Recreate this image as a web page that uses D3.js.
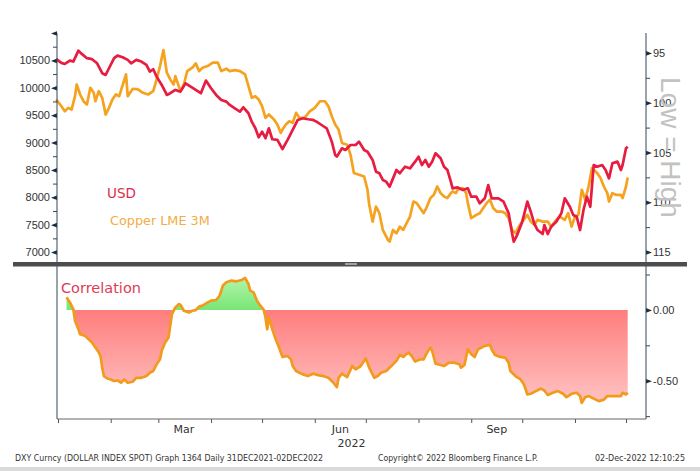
<!DOCTYPE html>
<html>
<head>
<meta charset="utf-8">
<script src="https://d3js.org/d3.v7.min.js"></script>
<style>
  body { margin: 0; background: #fff; }
  svg { display: block; font-family: "DejaVu Sans", sans-serif; }
  .tick text { fill: #333; font-size: 11px; }
</style>
</head>
<body>
<div id="chart"></div>
<script>
// values (USD = DXY index, right axis inverted)
const usdSeries = [
  ["2021-12-31",95.63],["2022-01-03",96.00],["2022-01-05",96.11],["2022-01-08",95.77],["2022-01-10",95.87],
  ["2022-01-13",94.77],["2022-01-15",95.10],["2022-01-18",95.53],["2022-01-21",95.63],["2022-01-24",96.04],
  ["2022-01-27",97.04],["2022-01-29",97.21],["2022-01-31",96.54],["2022-02-03",95.53],["2022-02-05",95.27],
  ["2022-02-08",95.43],["2022-02-11",95.70],["2022-02-13",96.04],["2022-02-16",95.70],["2022-02-19",95.87],
  ["2022-02-22",96.21],["2022-02-24",96.88],["2022-02-26",96.64],["2022-02-28",97.38],["2022-03-03",98.22],
  ["2022-03-06",99.22],["2022-03-08",99.05],["2022-03-11",98.72],["2022-03-14",98.89],["2022-03-17",98.05],
  ["2022-03-20",98.39],["2022-03-23",98.72],["2022-03-26",99.05],["2022-03-29",97.78],["2022-04-01",98.55],
  ["2022-04-04",99.22],["2022-04-07",99.72],["2022-04-10",99.89],["2022-04-12",100.23],["2022-04-15",100.56],
  ["2022-04-18",100.90],["2022-04-20",100.46],["2022-04-23",101.06],["2022-04-25",101.93],["2022-04-27",102.54],
  ["2022-04-29",103.47],["2022-05-01",102.91],["2022-05-03",103.57],["2022-05-05",102.57],["2022-05-07",103.67],
  ["2022-05-10",103.74],["2022-05-13",104.65],["2022-05-16",103.74],["2022-05-17",103.41],["2022-05-19",102.74],
  ["2022-05-22",101.73],["2022-05-25",101.56],["2022-05-28",101.66],["2022-05-31",101.73],["2022-06-02",101.90],
  ["2022-06-05",102.24],["2022-06-08",102.57],["2022-06-11",103.91],["2022-06-13",105.25],["2022-06-14",105.42],
  ["2022-06-17",104.58],["2022-06-19",104.75],["2022-06-22",104.25],["2022-06-25",104.25],["2022-06-27",103.91],
  ["2022-06-30",104.75],["2022-07-02",104.92],["2022-07-05",105.75],["2022-07-07",106.93],["2022-07-09",107.09],
  ["2022-07-11",107.76],["2022-07-13",107.93],["2022-07-15",108.44],["2022-07-17",107.60],["2022-07-19",106.76],
  ["2022-07-21",107.09],["2022-07-24",106.43],["2022-07-27",106.59],["2022-07-30",105.92],["2022-08-01",105.42],
  ["2022-08-03",106.26],["2022-08-05",105.75],["2022-08-07",106.43],["2022-08-09",105.92],["2022-08-11",105.08],
  ["2022-08-14",105.58],["2022-08-16",106.43],["2022-08-18",106.76],["2022-08-20",107.93],["2022-08-21",108.60],
  ["2022-08-24",108.50],["2022-08-27",108.77],["2022-08-30",108.60],["2022-09-01",109.44],["2022-09-04",109.44],
  ["2022-09-06",110.10],["2022-09-09",109.60],["2022-09-11",108.27],["2022-09-13",109.60],["2022-09-17",109.60],
  ["2022-09-20",109.94],["2022-09-23",111.11],["2022-09-25",113.12],["2022-09-26",113.96],["2022-09-28",113.29],
  ["2022-10-01",111.95],["2022-10-04",109.94],["2022-10-06",110.95],["2022-10-08",112.11],["2022-10-10",112.79],
  ["2022-10-13",113.19],["2022-10-14",112.29],["2022-10-16",113.19],["2022-10-18",112.46],["2022-10-21",111.95],
  ["2022-10-24",111.11],["2022-10-26",109.60],["2022-10-29",110.45],["2022-10-31",111.28],["2022-11-02",111.45],
  ["2022-11-04",112.79],["2022-11-06",110.78],["2022-11-08",109.44],["2022-11-10",110.45],["2022-11-12",106.26],
  ["2022-11-14",106.43],["2022-11-17",106.26],["2022-11-19",106.76],["2022-11-21",107.60],["2022-11-23",106.09],
  ["2022-11-26",105.92],["2022-11-28",106.76],["2022-11-29",106.26],["2022-12-01",104.58],["2022-12-02",104.42]
];

const copperSeries = [
  ["2021-12-31",9786],["2022-01-03",9663],["2022-01-05",9571],["2022-01-07",9633],["2022-01-09",9602],
  ["2022-01-11",9846],["2022-01-12",10060],["2022-01-14",9877],["2022-01-16",9754],["2022-01-18",9694],
  ["2022-01-20",10000],["2022-01-22",9908],["2022-01-23",9754],["2022-01-25",9938],["2022-01-27",9817],
  ["2022-01-29",9511],["2022-01-31",9633],["2022-02-02",9786],["2022-02-04",9877],["2022-02-06",9846],
  ["2022-02-10",10244],["2022-02-11",9846],["2022-02-14",9982],["2022-02-17",9969],["2022-02-20",9908],
  ["2022-02-23",9877],["2022-02-26",9938],["2022-02-28",10152],["2022-03-02",10396],["2022-03-04",10689],
  ["2022-03-06",10275],["2022-03-08",10152],["2022-03-10",10060],["2022-03-11",10212],["2022-03-14",9938],
  ["2022-03-16",10060],["2022-03-18",10304],["2022-03-21",10366],["2022-03-23",10445],["2022-03-25",10304],
  ["2022-03-27",10366],["2022-03-30",10396],["2022-04-02",10458],["2022-04-05",10458],["2022-04-07",10304],
  ["2022-04-10",10348],["2022-04-12",10304],["2022-04-15",10322],["2022-04-18",10304],["2022-04-21",10244],
  ["2022-04-23",10029],["2022-04-25",9817],["2022-04-27",9846],["2022-04-29",9786],["2022-05-01",9663],
  ["2022-05-03",9450],["2022-05-05",9511],["2022-05-08",9419],["2022-05-10",9328],["2022-05-12",9175],
  ["2022-05-13",9236],["2022-05-15",9328],["2022-05-17",9388],["2022-05-19",9359],["2022-05-21",9542],
  ["2022-05-23",9450],["2022-05-26",9450],["2022-05-29",9571],["2022-06-01",9633],["2022-06-04",9754],
  ["2022-06-07",9754],["2022-06-09",9663],["2022-06-11",9480],["2022-06-13",9328],["2022-06-15",9236],
  ["2022-06-17",8992],["2022-06-20",8961],["2022-06-22",8778],["2022-06-24",8443],["2022-06-27",8411],
  ["2022-06-30",8380],["2022-07-02",8137],["2022-07-03",7862],["2022-07-05",7556],["2022-07-07",7831],
  ["2022-07-09",7710],["2022-07-11",7404],["2022-07-14",7221],["2022-07-15",7190],["2022-07-17",7404],
  ["2022-07-19",7343],["2022-07-21",7464],["2022-07-23",7404],["2022-07-25",7527],["2022-07-27",7648],
  ["2022-07-29",7922],["2022-07-31",7893],["2022-08-02",7801],["2022-08-04",7710],["2022-08-06",7831],
  ["2022-08-08",7985],["2022-08-10",8045],["2022-08-12",8197],["2022-08-14",8076],["2022-08-16",8014],
  ["2022-08-18",7985],["2022-08-20",8076],["2022-08-21",8106],["2022-08-23",8076],["2022-08-24",8137],
  ["2022-08-27",8168],["2022-08-29",8076],["2022-08-30",7893],["2022-09-01",7618],["2022-09-04",7679],
  ["2022-09-06",7710],["2022-09-08",7801],["2022-09-10",7893],["2022-09-12",7954],["2022-09-14",7801],
  ["2022-09-16",7739],["2022-09-19",7739],["2022-09-21",7710],["2022-09-23",7618],["2022-09-25",7404],
  ["2022-09-27",7343],["2022-09-29",7464],["2022-10-01",7556],["2022-10-04",7679],["2022-10-06",7556],
  ["2022-10-08",7496],["2022-10-10",7587],["2022-10-13",7556],["2022-10-16",7556],["2022-10-18",7464],
  ["2022-10-21",7587],["2022-10-23",7648],["2022-10-26",7587],["2022-10-28",7710],["2022-10-30",7464],
  ["2022-11-01",7648],["2022-11-03",7679],["2022-11-05",8137],["2022-11-07",7954],["2022-11-09",8197],
  ["2022-11-11",8534],["2022-11-14",8443],["2022-11-16",8351],["2022-11-18",8197],["2022-11-20",8076],
  ["2022-11-21",7922],["2022-11-23",8076],["2022-11-25",8045],["2022-11-28",8045],["2022-11-29",7985],
  ["2022-12-01",8197],["2022-12-02",8362]
];

const corrSeries = [
  ["2022-01-06",0.089],["2022-01-08",0.053],["2022-01-10",0.006],["2022-01-11",-0.077],["2022-01-13",-0.136],
  ["2022-01-14",-0.172],["2022-01-17",-0.183],["2022-01-19",-0.207],["2022-01-21",-0.230],["2022-01-23",-0.266],
  ["2022-01-25",-0.301],["2022-01-26",-0.325],["2022-01-27",-0.408],["2022-01-28",-0.467],["2022-01-30",-0.484],
  ["2022-02-01",-0.491],["2022-02-03",-0.502],["2022-02-05",-0.498],["2022-02-07",-0.514],["2022-02-09",-0.491],
  ["2022-02-11",-0.514],["2022-02-14",-0.507],["2022-02-16",-0.479],["2022-02-19",-0.479],["2022-02-22",-0.467],
  ["2022-02-24",-0.443],["2022-02-26",-0.431],["2022-02-28",-0.384],["2022-03-02",-0.349],["2022-03-03",-0.289],
  ["2022-03-05",-0.230],["2022-03-07",-0.195],["2022-03-08",-0.112],["2022-03-09",-0.030],["2022-03-11",0.018],
  ["2022-03-13",0.041],["2022-03-14",0.037],["2022-03-16",-0.006],["2022-03-19",-0.018],["2022-03-21",-0.006],
  ["2022-03-23",-0.001],["2022-03-25",0.023],["2022-03-27",0.030],["2022-03-30",0.053],["2022-04-01",0.065],
  ["2022-04-04",0.070],["2022-04-06",0.100],["2022-04-08",0.172],["2022-04-10",0.195],["2022-04-13",0.207],
  ["2022-04-16",0.202],["2022-04-19",0.211],["2022-04-21",0.226],["2022-04-23",0.183],["2022-04-24",0.136],
  ["2022-04-26",0.124],["2022-04-28",0.065],["2022-04-30",0.030],["2022-05-02",0.000],["2022-05-03",-0.053],
  ["2022-05-04",-0.136],["2022-05-05",-0.053],["2022-05-07",-0.136],["2022-05-09",-0.207],["2022-05-11",-0.266],
  ["2022-05-13",-0.332],["2022-05-16",-0.325],["2022-05-18",-0.349],["2022-05-19",-0.396],["2022-05-21",-0.431],
  ["2022-05-23",-0.443],["2022-05-25",-0.455],["2022-05-28",-0.467],["2022-05-31",-0.450],["2022-06-03",-0.460],
  ["2022-06-06",-0.467],["2022-06-09",-0.479],["2022-06-12",-0.514],["2022-06-14",-0.545],["2022-06-15",-0.479],
  ["2022-06-17",-0.450],["2022-06-20",-0.474],["2022-06-23",-0.396],["2022-06-25",-0.420],["2022-06-28",-0.396],
  ["2022-07-01",-0.342],["2022-07-03",-0.408],["2022-07-06",-0.479],["2022-07-08",-0.467],["2022-07-10",-0.443],
  ["2022-07-13",-0.431],["2022-07-16",-0.396],["2022-07-19",-0.360],["2022-07-21",-0.318],["2022-07-23",-0.332],
  ["2022-07-26",-0.301],["2022-07-28",-0.325],["2022-07-30",-0.365],["2022-08-02",-0.349],["2022-08-04",-0.349],
  ["2022-08-06",-0.301],["2022-08-08",-0.266],["2022-08-09",-0.289],["2022-08-11",-0.379],["2022-08-14",-0.389],
  ["2022-08-16",-0.396],["2022-08-19",-0.372],["2022-08-22",-0.372],["2022-08-25",-0.384],["2022-08-26",-0.408],
  ["2022-08-28",-0.389],["2022-08-30",-0.278],["2022-09-01",-0.313],["2022-09-03",-0.332],["2022-09-05",-0.278],
  ["2022-09-07",-0.266],["2022-09-09",-0.254],["2022-09-12",-0.247],["2022-09-13",-0.278],["2022-09-15",-0.318],
  ["2022-09-18",-0.332],["2022-09-21",-0.337],["2022-09-23",-0.372],["2022-09-24",-0.431],["2022-09-27",-0.467],
  ["2022-09-30",-0.491],["2022-10-02",-0.526],["2022-10-04",-0.597],["2022-10-06",-0.592],["2022-10-09",-0.573],
  ["2022-10-12",-0.555],["2022-10-14",-0.569],["2022-10-16",-0.601],["2022-10-19",-0.585],["2022-10-22",-0.573],
  ["2022-10-25",-0.592],["2022-10-27",-0.616],["2022-10-30",-0.592],["2022-11-02",-0.585],["2022-11-04",-0.608],
  ["2022-11-05",-0.656],["2022-11-07",-0.616],["2022-11-09",-0.608],["2022-11-12",-0.626],["2022-11-15",-0.644],
  ["2022-11-18",-0.633],["2022-11-20",-0.608],["2022-11-23",-0.608],["2022-11-26",-0.608],["2022-11-28",-0.608],
  ["2022-11-29",-0.585],["2022-12-01",-0.597],["2022-12-02",-0.585]
];

// tick labels
const copperMajor = [7000, 7500, 8000, 8500, 9000, 9500, 10000, 10500, 11000];
const copperMinor = [7250, 7750, 8250, 8750, 9250, 9750, 10250, 10750];
const usdMajor = [95, 100, 105, 110, 115];
const usdMinor = [97.5, 102.5, 107.5, 112.5];
const corrMajor = [0, -0.5];
const corrMinor = [0.25, -0.25, -0.75];
const monthLabels = ["Mar", "Jun", "Sep"];

const W = 700, H = 471;
const left = 57, right = 646;
const topY = 33, sepY = 264, botTop = 266, botY = 419;

const parse = d3.timeParse("%Y-%m-%d");
const usd = usdSeries.map(d => ({ date: parse(d[0]), v: d[1] }));
const cu = copperSeries.map(d => ({ date: parse(d[0]), v: d[1] }));
const corr = corrSeries.map(d => ({ date: parse(d[0]), v: d[1] }));

const svg = d3.select("#chart").append("svg")
  .attr("width", W).attr("height", H);

// scales
const x = d3.scaleTime()
  .domain([new Date(2022, 0, 1), new Date(2022, 11, 1)])
  .range([58, 626]);
const yCu = d3.scaleLinear().domain([6800, 11000]).range([sepY - 1, topY]);
const yUsd = d3.scaleLinear().domain([93, 116.1]).range([topY, sepY - 1]);
const yC = d3.scaleLinear().domain([0.31, -0.77]).range([botTop, botY]);

const axisCol = "#34465a";

// gradients
const defs = svg.append("defs");
const gRed = defs.append("linearGradient").attr("id", "gRed")
  .attr("gradientUnits", "userSpaceOnUse")
  .attr("x1", 0).attr("x2", 0).attr("y1", yC(0)).attr("y2", yC(-0.66));
gRed.append("stop").attr("offset", 0).attr("stop-color", "#ff7d7d");
gRed.append("stop").attr("offset", 1).attr("stop-color", "#ffc3c3");
const gGreen = defs.append("linearGradient").attr("id", "gGreen")
  .attr("gradientUnits", "userSpaceOnUse")
  .attr("x1", 0).attr("x2", 0).attr("y1", yC(0.23)).attr("y2", yC(0));
gGreen.append("stop").attr("offset", 0).attr("stop-color", "#b4f5aa");
gGreen.append("stop").attr("offset", 1).attr("stop-color", "#78e676");

defs.append("clipPath").attr("id", "clipPos").append("rect")
  .attr("x", left).attr("y", botTop).attr("width", right - left).attr("height", yC(0) - botTop);
defs.append("clipPath").attr("id", "clipNeg").append("rect")
  .attr("x", left).attr("y", yC(0)).attr("width", right - left).attr("height", botY - yC(0));

// ---- top panel lines
const cuLine = d3.line().x(d => x(d.date)).y(d => yCu(d.v));
const usdLine = d3.line().x(d => x(d.date)).y(d => yUsd(d.v));

svg.append("path").datum(cu)
  .attr("d", cuLine).attr("fill", "none")
  .attr("stroke", "#f5a21e").attr("stroke-width", 2.7).attr("stroke-linejoin", "round");
svg.append("path").datum(usd)
  .attr("d", usdLine).attr("fill", "none")
  .attr("stroke", "#e81c40").attr("stroke-width", 2.7).attr("stroke-linejoin", "round");

// ---- bottom panel area + line
const area = d3.area().x(d => x(d.date)).y0(yC(0)).y1(d => yC(d.v));
svg.append("path").datum(corr).attr("d", area)
  .attr("fill", "url(#gGreen)").attr("clip-path", "url(#clipPos)");
svg.append("path").datum(corr).attr("d", area)
  .attr("fill", "url(#gRed)").attr("clip-path", "url(#clipNeg)");
svg.append("path").datum(corr)
  .attr("d", d3.line().x(d => x(d.date)).y(d => yC(d.v)))
  .attr("fill", "none").attr("stroke", "#f29a1c").attr("stroke-width", 2.7)
  .attr("stroke-linejoin", "round");

// ---- axes
function wedge(g, dir) {
  g.selectAll(".tick").append("path")
    .attr("d", dir < 0 ? "M0,-2.3L-6,0L0,2.3Z" : "M0,-2.3L6,0L0,2.3Z")
    .attr("fill", "#1e2c3c");
}
function minor(axis, g) {
  g.call(axis).call(s => s.select(".domain").remove())
    .selectAll(".tick line").attr("stroke", axisCol);
}

// left copper axis
const gL = svg.append("g").attr("transform", `translate(${left},0)`)
  .call(d3.axisLeft(yCu).tickValues(copperMajor).tickSize(0).tickPadding(7)
    .tickFormat(d => d === 11000 ? "" : d));
gL.select(".domain").remove();
wedge(gL, -1);
minor(d3.axisLeft(yCu).tickValues(copperMinor).tickSize(4).tickFormat(""),
  svg.append("g").attr("transform", `translate(${left},0)`));

// right usd axis
const gR = svg.append("g").attr("transform", `translate(${right},0)`)
  .call(d3.axisRight(yUsd).tickValues(usdMajor).tickSize(0).tickPadding(7));
gR.select(".domain").remove();
wedge(gR, 1);
minor(d3.axisRight(yUsd).tickValues(usdMinor).tickSize(4).tickFormat(""),
  svg.append("g").attr("transform", `translate(${right},0)`));

// right correlation axis
const gC = svg.append("g").attr("transform", `translate(${right},0)`)
  .call(d3.axisRight(yC).tickValues(corrMajor).tickSize(0).tickPadding(7)
    .tickFormat(d3.format(".2f")));
gC.select(".domain").remove();
gC.selectAll(".tick text").text(d => d3.format(".2f")(d).replace("−", "-"));
wedge(gC, 1);
minor(d3.axisRight(yC).tickValues(corrMinor).tickSize(4).tickFormat(""),
  svg.append("g").attr("transform", `translate(${right},0)`));

// bottom time axis, month starts
const gX = svg.append("g").attr("transform", `translate(0,${botY})`)
  .call(d3.axisBottom(x)
    .tickValues(d3.timeMonth.range(new Date(2022, 0, 1), new Date(2022, 11, 2)))
    .tickSize(4).tickFormat(""));
gX.select(".domain").remove();
gX.selectAll(".tick line").attr("stroke", "#555");

svg.append("g").selectAll("text").data(monthLabels).join("text")
  .attr("x", d => x(d3.timeParse("%b %d %Y")(d + " 16 2022")))
  .attr("y", 433).attr("text-anchor", "middle")
  .attr("font-size", 11).attr("fill", "#333").text(d => d);
svg.append("text").attr("x", (left + right) / 2).attr("y", 447)
  .attr("text-anchor", "middle").attr("font-size", 11).attr("fill", "#333").text("2022");

// axis lines
const lines = svg.append("g").attr("stroke-width", 1);
lines.append("line").attr("x1", left).attr("x2", left).attr("y1", topY).attr("y2", botY)
  .attr("stroke", axisCol);
lines.append("line").attr("x1", right).attr("x2", right).attr("y1", topY).attr("y2", botY)
  .attr("stroke", axisCol);
lines.append("line").attr("x1", left).attr("x2", right).attr("y1", botY).attr("y2", botY)
  .attr("stroke", "#666");

// panel separator
svg.append("rect").attr("x", 13).attr("y", sepY - 2).attr("width", 674).attr("height", 4.5)
  .attr("fill", "#4d4d4d");
svg.append("rect").attr("x", 345).attr("y", sepY - 1).attr("width", 12).attr("height", 2)
  .attr("fill", "#a0a0a0");

// legend + labels
svg.append("text").attr("x", 107).attr("y", 198).attr("font-size", 13.5)
  .attr("fill", "#dc2c4c").text("USD");
svg.append("text").attr("x", 110).attr("y", 225).attr("font-size", 12.8)
  .attr("fill", "#f2ad45").text("Copper LME 3M");
svg.append("text").attr("x", 61).attr("y", 293).attr("font-size", 14.5)
  .attr("fill", "#e03a58").text("Correlation");

svg.append("text")
  .attr("transform", "translate(661,77) rotate(90)")
  .attr("font-family", "'Liberation Sans', Arial, sans-serif")
  .attr("font-size", 28).attr("fill", "#c2c2c2").text("Low = High");

// footer
const foot = svg.append("g").attr("font-size", 8).attr("fill", "#333");
foot.append("text").attr("x", 15).attr("y", 461)
  .attr("textLength", 308).attr("lengthAdjust", "spacingAndGlyphs")
  .text("DXY Curncy (DOLLAR INDEX SPOT) Graph 1364  Daily 31DEC2021-02DEC2022");
foot.append("text").attr("x", 378).attr("y", 461)
  .attr("textLength", 160).attr("lengthAdjust", "spacingAndGlyphs")
  .text("Copyright© 2022 Bloomberg Finance L.P.");
foot.append("text").attr("x", 595).attr("y", 461)
  .attr("textLength", 90).attr("lengthAdjust", "spacingAndGlyphs")
  .text("02-Dec-2022 12:10:25");

svg.append("rect").attr("x", 0).attr("y", 467).attr("width", W).attr("height", 4)
  .attr("fill", "#dadada");
</script>
</body>
</html>
